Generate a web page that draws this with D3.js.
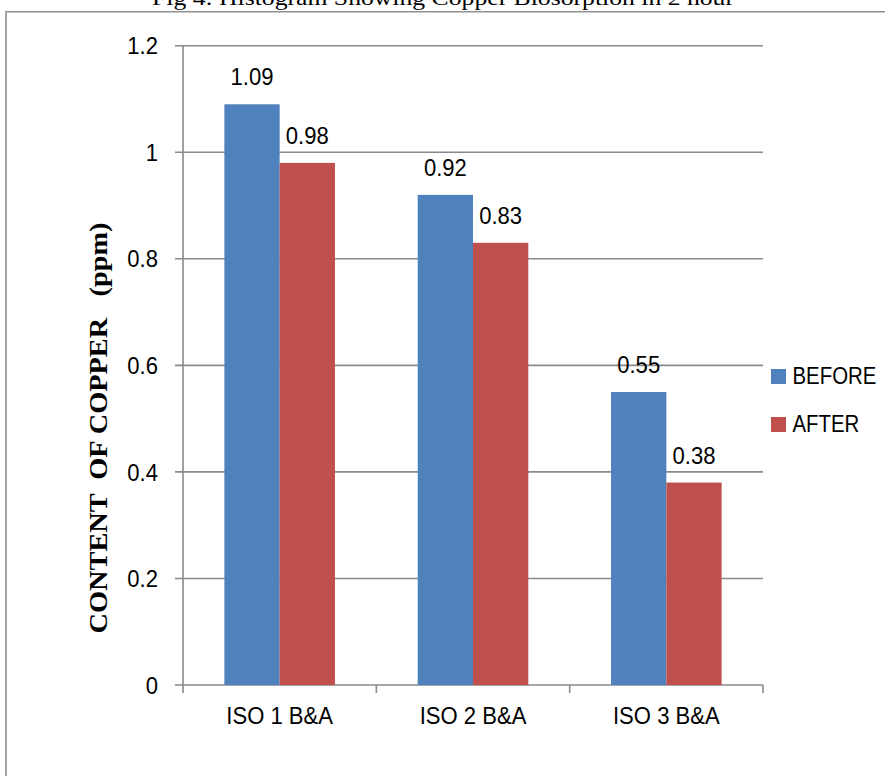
<!DOCTYPE html>
<html><head><meta charset="utf-8">
<script src="https://cdn.jsdelivr.net/npm/d3@7"></script>
<style>
html,body{margin:0;padding:0;background:#fff;}
svg{display:block;}
.lbl{font-family:"Liberation Sans",Arial,sans-serif;fill:#000;}
</style></head>
<body>
<script>
const categories = ["ISO 1 B&A", "ISO 2 B&A", "ISO 3 B&A"];
const seriesNames = ["BEFORE", "AFTER"];
const beforeValues = [1.09, 0.92, 0.55];
const afterValues = [0.98, 0.83, 0.38];
const yTicks = [0, 0.2, 0.4, 0.6, 0.8, 1, 1.2];
const colors = ["#4F81BD", "#C0504D"];
const titleText = "Fig 4: Histogram Showing Copper Biosorption in 2 hour";
const yTitleText = "CONTENT  OF COPPER   (ppm)";

(function () {
const W = 885, H = 776;
const SX = 0.92;
const svg = d3.select("body").append("svg").attr("width", W).attr("height", H);

// outer frame (top and left visible)
svg.append("path").attr("d", "M6," + (H + 5) + "V11.7H" + (W + 5))
  .attr("fill", "none").attr("stroke", "#909090").attr("stroke-width", 1.6);

// title (cut at top, as in the reference)
svg.append("text").attr("x", 443).attr("y", 4.5).attr("text-anchor", "middle")
  .attr("font-family", "'Liberation Serif','Times New Roman',serif").attr("font-size", 22)
  .attr("textLength", 582).attr("lengthAdjust", "spacingAndGlyphs")
  .text(titleText);

const pLeft = 183, pRight = 763, pTop = 45.7, pBottom = 685;
const x = d3.scaleBand().domain(categories).range([pLeft, pRight]).paddingInner(0).paddingOuter(0);
const xs = d3.scaleBand().domain(seriesNames).range([0, x.bandwidth()]).paddingInner(0).paddingOuter(0.748);
const y = d3.scaleLinear().domain([0, 1.2]).range([pBottom, pTop]);

const tf = (px, py, s) => "translate(" + px + "," + py + ") scale(" + (s || SX) + ",1)";

// gridlines
svg.append("g").selectAll("line").data(yTicks).join("line")
  .attr("x1", pLeft - 8).attr("x2", pRight)
  .attr("y1", d => y(d)).attr("y2", d => y(d))
  .attr("stroke", "#8a8a8a").attr("stroke-width", 1.6);

// y axis line
svg.append("line").attr("x1", pLeft).attr("x2", pLeft).attr("y1", pTop).attr("y2", pBottom + 8)
  .attr("stroke", "#8a8a8a").attr("stroke-width", 1.6);

// x tick marks
const xBounds = categories.map(c => x(c)).concat([pRight]);
svg.append("g").selectAll("line").data(xBounds.slice(1)).join("line")
  .attr("x1", d => d).attr("x2", d => d).attr("y1", pBottom).attr("y2", pBottom + 8)
  .attr("stroke", "#8a8a8a").attr("stroke-width", 1.6);

// y tick labels
svg.append("g").selectAll("text").data(yTicks).join("text")
  .attr("class", "lbl").attr("transform", d => tf(158, y(d))).attr("dy", "0.36em")
  .attr("text-anchor", "end").attr("font-size", 24)
  .text(d => d3.format("")(d));

// bars
const data = categories.map((c, i) => ({cat: c, vals: [beforeValues[i], afterValues[i]]}));
const groups = svg.append("g").selectAll("g").data(data).join("g")
  .attr("transform", d => "translate(" + x(d.cat) + ",0)");
groups.selectAll("rect").data(d => d.vals.map((v, j) => ({s: seriesNames[j], v, j}))).join("rect")
  .attr("x", d => xs(d.s)).attr("width", xs.bandwidth())
  .attr("y", d => y(d.v)).attr("height", d => y(0) - y(d.v))
  .attr("fill", d => colors[d.j]);
groups.selectAll("text").data(d => d.vals.map((v, j) => ({s: seriesNames[j], v, j}))).join("text")
  .attr("class", "lbl").attr("font-size", 24).attr("text-anchor", "middle")
  .attr("transform", d => tf(xs(d.s) + xs.bandwidth() / 2, y(d.v) - 19))
  .text(d => d.v);

// x labels
svg.append("g").selectAll("text").data(categories).join("text")
  .attr("class", "lbl").attr("font-size", 24).attr("text-anchor", "middle")
  .attr("transform", d => tf(x(d) + x.bandwidth() / 2, 724))
  .text(d => d);

// y title
svg.append("text")
  .attr("transform", "translate(107,428) rotate(-90)")
  .attr("text-anchor", "middle")
  .style("white-space", "pre")
  .attr("font-family", "'Liberation Serif','Times New Roman',serif")
  .attr("font-weight", "bold").attr("font-size", 25)
  .attr("textLength", 411).attr("lengthAdjust", "spacingAndGlyphs")
  .text(yTitleText);

// legend
const leg = svg.append("g").selectAll("g").data(seriesNames).join("g")
  .attr("transform", (d, i) => "translate(771," + (369 + i * 48) + ")");
leg.append("rect").attr("width", 15).attr("height", 15).attr("fill", (d, i) => colors[i]);
leg.append("text").attr("class", "lbl").attr("transform", tf(21.5, 15, 0.85)).attr("font-size", 24).text(d => d);
})();
</script>
</body></html>
